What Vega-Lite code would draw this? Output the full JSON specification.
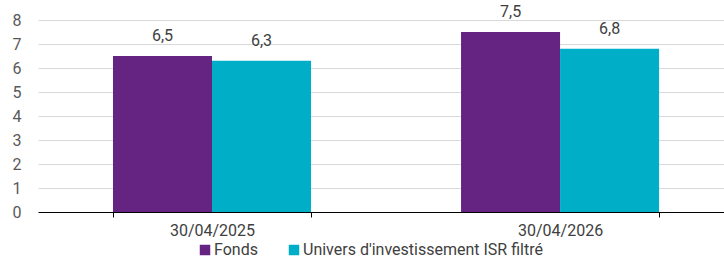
{
  "$schema": "https://vega.github.io/schema/vega-lite/v6.json",
  "autosize": "none",
  "width": 686,
  "height": 192,
  "padding": {"left": 38, "top": 20, "right": 0, "bottom": 47},
  "config": {
    "view": {"stroke": null},
    "font": "Roboto",
    "locale": {"number": {"decimal": ",", "thousands": " ", "grouping": [3], "currency": ["", " €"]}}
  },
  "data": {
    "values": [
      {"date": "30/04/2025", "serie": "Fonds", "valeur": 6.5},
      {"date": "30/04/2025", "serie": "Univers d'investissement ISR filtré", "valeur": 6.3},
      {"date": "30/04/2026", "serie": "Fonds", "valeur": 7.5},
      {"date": "30/04/2026", "serie": "Univers d'investissement ISR filtré", "valeur": 6.8}
    ]
  },
  "encoding": {
    "x": {
      "field": "date", "type": "nominal",
      "scale": {"paddingInner": 0.431, "paddingOuter": 0.201, "align": 0.536},
      "axis": {
        "title": null, "labelAngle": 0, "tickBand": "extent",
        "domainColor": "#000000", "tickColor": "#000000", "tickSize": 5,
        "labelFont": "Roboto", "labelFontSize": 16, "labelColor": "#404040", "labelPadding": 5
      }
    },
    "y": {
      "field": "valeur", "type": "quantitative",
      "scale": {"domain": [0, 8]},
      "axis": {
        "title": null, "values": [0, 1, 2, 3, 4, 5, 6, 7, 8], "domain": false, "ticks": false,
        "gridColor": "#d9d9d9", "labelFont": "Roboto", "labelFontSize": 16, "labelColor": "#595959", "labelPadding": 17
      }
    },
    "xOffset": {"field": "serie", "type": "nominal", "sort": ["Fonds", "Univers d'investissement ISR filtré"], "scale": {"paddingInner": 0, "paddingOuter": 0}}
  },
  "layer": [
    {
      "mark": {"type": "bar"},
      "encoding": {
        "color": {
          "field": "serie", "type": "nominal",
          "scale": {"domain": ["Fonds", "Univers d'investissement ISR filtré"], "range": ["#662482", "#00aec7"]},
          "legend": {
            "title": null, "orient": "none", "direction": "horizontal",
            "legendX": 159, "legendY": 222,
            "symbolType": "square", "symbolSize": 110, "symbolStrokeWidth": 0,
            "labelFont": "Roboto", "labelFontSize": 16, "labelColor": "#404040", "labelLimit": 0,
            "labelOffset": 1, "columnPadding": 28
          }
        }
      }
    },
    {
      "mark": {"type": "text", "baseline": "alphabetic", "dy": -15, "font": "Roboto", "fontSize": 16, "color": "#404040"},
      "encoding": {
        "text": {"field": "valeur", "type": "quantitative", "format": ".1f"}
      }
    }
  ]
}
